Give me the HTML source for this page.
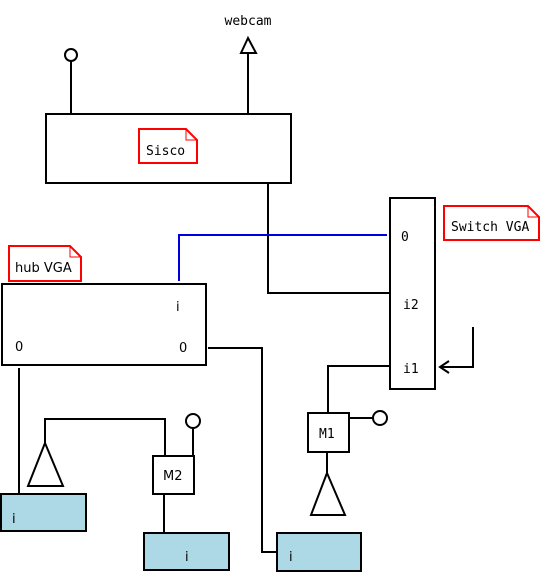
<!DOCTYPE html>
<html><head><meta charset="utf-8"><style>html,body{margin:0;padding:0;background:#fff}svg{display:block}</style></head>
<body>
<svg width="542" height="585" xmlns="http://www.w3.org/2000/svg">
<g fill="none" stroke="#000" stroke-width="2">
<rect x="46" y="114" width="245" height="69" fill="#fff"/>
<line x1="71" y1="61" x2="71" y2="114"/>
<circle cx="71" cy="55" r="6" fill="#fff"/>
<line x1="248" y1="53" x2="248" y2="114"/>
<polygon points="248,38 241,53 256,53" fill="#fff"/>
<polyline points="268,183 268,293 390,293"/>
<rect x="390" y="198" width="45" height="191" fill="#fff"/>
<polyline points="473,327 473,367 440,367"/>
<polyline points="449,361 440,367 449,373"/>
<rect x="2" y="284" width="204" height="81" fill="#fff"/>
<polyline points="208,348 262,348 262,552 277,552"/>
<line x1="19" y1="368" x2="19" y2="494"/>
<polyline points="45,443 45,419 165,419 165,456"/>
<polygon points="45,443 28,486 63,486" fill="#fff"/>
<rect x="153" y="456" width="41" height="38" fill="#fff"/>
<line x1="193" y1="428" x2="193" y2="456"/>
<circle cx="193" cy="421" r="7" fill="#fff"/>
<line x1="164" y1="494" x2="164" y2="533"/>
<rect x="1" y="494" width="85" height="37" fill="#add8e6"/>
<rect x="144" y="533" width="85" height="37" fill="#add8e6"/>
<rect x="277" y="533" width="84" height="38" fill="#add8e6"/>
<polyline points="328,413 328,366 390,366"/>
<rect x="308" y="413" width="41" height="39" fill="#fff"/>
<line x1="349" y1="418" x2="373" y2="418"/>
<circle cx="380" cy="418" r="7" fill="#fff"/>
<line x1="327" y1="452" x2="327" y2="473"/>
<polygon points="327,473 311,515 345,515" fill="#fff"/>
</g>
<polyline points="179,281 179,235 387,235" fill="none" stroke="#0000dd" stroke-width="2"/>
<g fill="#fff" stroke="#f00" stroke-width="2">
<polygon points="139,129 186,129 197,140 197,163 139,163"/>
<polygon points="444,206 528,206 539,217 539,240 444,240"/>
<polygon points="9,246 70,246 81,257 81,281 9,281"/>
</g>
<g fill="none" stroke="#f00" stroke-width="1">
<polyline points="186,129 186,140 197,140"/>
<polyline points="528,206 528,217 539,217"/>
<polyline points="70,246 70,257 81,257"/>
</g>
<g font-family="'DejaVu Sans Mono','Liberation Mono',monospace" font-size="13" fill="#000">
<text x="248" y="25" text-anchor="middle">webcam</text>
<text x="146" y="155">Sisco</text>
<text x="451" y="231">Switch VGA</text>
<text x="401" y="241">0</text>
<text x="403" y="309">i2</text>
<text x="403" y="373">i1</text>
<text x="319" y="438">M1</text>
</g>
<g font-family="'DejaVu Sans','Liberation Sans',sans-serif" font-size="13" fill="#000">
<text x="15" y="272">hub  VGA</text>
<text x="176" y="311">i</text>
<text x="15" y="351">0</text>
<text x="179" y="352">0</text>
<text x="163" y="480">M2</text>
<text x="12" y="523">i</text>
<text x="185" y="561">i</text>
<text x="289" y="561">i</text>
</g>
</svg>
</body></html>
